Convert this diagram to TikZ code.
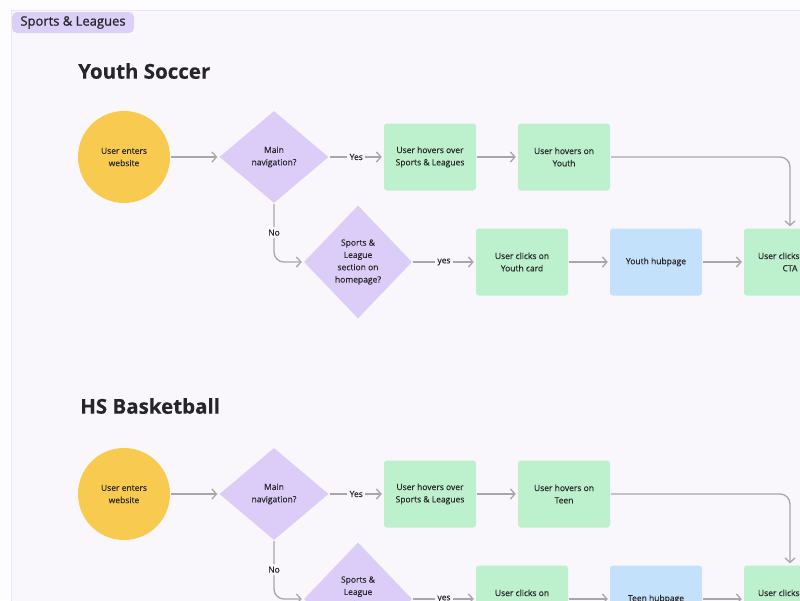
\documentclass[tikz,border=0pt]{standalone}
\usepackage{fontspec}
\setmainfont{Open Sans}[FakeBold=0.25]
\newfontfamily\tagfont{Open Sans}[FakeBold=0.9]
\usetikzlibrary{shapes.geometric,arrows.meta}
\definecolor{outbg}{HTML}{FDFCFE}
\definecolor{bg}{HTML}{F9F7FC}
\definecolor{frameline}{HTML}{ECE5F4}
\definecolor{cyellow}{HTML}{F8CA4F}
\definecolor{cpurple}{HTML}{DCCDF8}
\definecolor{cgreen}{HTML}{BDF0CC}
\definecolor{cblue}{HTML}{C4E1FB}
\definecolor{carrow}{HTML}{A9A5AE}
\definecolor{ctext}{HTML}{26262A}
\definecolor{ctag}{HTML}{DCCFF8}
\begin{document}
\begin{tikzpicture}[x=1pt,y=-1pt,
  every node/.style={text=ctext, font=\fontsize{8.5}{12.3}\selectfont},
  startnode/.style={circle, fill=cyellow, minimum size=92, inner sep=0, align=center},
  decision/.style={diamond, fill=cpurple, inner sep=0, align=center},
  stepbox/.style={rectangle, rounded corners=3, fill=cgreen, minimum width=92, minimum height=67, inner sep=0, align=center},
  hub/.style={stepbox, fill=cblue},
  arr/.style={draw=carrow, line width=1.3, shorten >=2, shorten <=1, -{Straight Barb[length=4.5pt,width=10pt,line width=1.3]}},
  lbl/.style={fill=bg, inner sep=2.5},
  title/.style={anchor=west, inner sep=0, font=\fontsize{20.5}{24}\selectfont\bfseries, text=ctext},
]
\clip (0,0) rectangle (800,600);
\fill[outbg] (0,0) rectangle (800,600);
\draw[fill=bg, draw=frameline, line width=1] (11,10.5) rectangle (810,610);
\node[fill=ctag, rounded corners=5, minimum width=122, minimum height=21, inner sep=0, font=\fontsize{13}{15}\tagfont] (tag) at (73,22.5) {Sports \& Leagues};

% ---------- Youth Soccer ----------
\node[title] (ttl1) at (78,71) {Youth Soccer};
\node[startnode] (s1) at (124,157) {User enters\\website};
\node[decision, minimum width=109, minimum height=92] (d1) at (274,157) {Main\\navigation?};
\node[stepbox] (h1) at (430,157) {User hovers over\\Sports \& Leagues};
\node[stepbox] (y1) at (564,157) {User hovers on\\Youth};
\node[decision, minimum width=108, minimum height=113] (q1) at (358,262) {Sports \&\\League\\section on\\homepage?};
\node[stepbox] (c1) at (522,262) {User clicks on\\Youth card};
\node[hub] (p1) at (656,262) {Youth hubpage};
\node[stepbox] (t1) at (790,262) {User clicks Shop\\CTA};

\draw[arr] (s1) -- (d1);
\draw[arr] (d1) -- node[lbl]{Yes} (h1);
\draw[arr] (h1) -- (y1);
\draw[arr, rounded corners=10] (y1.east) -| (t1.north);
\draw[arr, rounded corners=10] (d1.south) |- node[lbl, pos=0.25]{No} (q1.west);
\draw[arr] (q1) -- node[lbl]{yes} (c1);
\draw[arr] (c1) -- (p1);
\draw[arr] (p1) -- (t1);

% ---------- HS Basketball ----------
\node[title] (ttl2) at (80,406) {HS Basketball};
\node[startnode] (s2) at (124,494) {User enters\\website};
\node[decision, minimum width=109, minimum height=92] (d2) at (274,494) {Main\\navigation?};
\node[stepbox] (h2) at (430,494) {User hovers over\\Sports \& Leagues};
\node[stepbox] (y2) at (564,494) {User hovers on\\Teen};
\node[decision, minimum width=108, minimum height=113] (q2) at (358,599) {Sports \&\\League\\section on\\homepage?};
\node[stepbox] (c2) at (522,599) {User clicks on\\Teen card};
\node[hub] (p2) at (656,599) {Teen hubpage};
\node[stepbox] (t2) at (790,599) {User clicks Shop\\CTA};

\draw[arr] (s2) -- (d2);
\draw[arr] (d2) -- node[lbl]{Yes} (h2);
\draw[arr] (h2) -- (y2);
\draw[arr, rounded corners=10] (y2.east) -| (t2.north);
\draw[arr, rounded corners=10] (d2.south) |- node[lbl, pos=0.25]{No} (q2.west);
\draw[arr] (q2) -- node[lbl]{yes} (c2);
\draw[arr] (c2) -- (p2);
\draw[arr] (p2) -- (t2);
\end{tikzpicture}
\end{document}
